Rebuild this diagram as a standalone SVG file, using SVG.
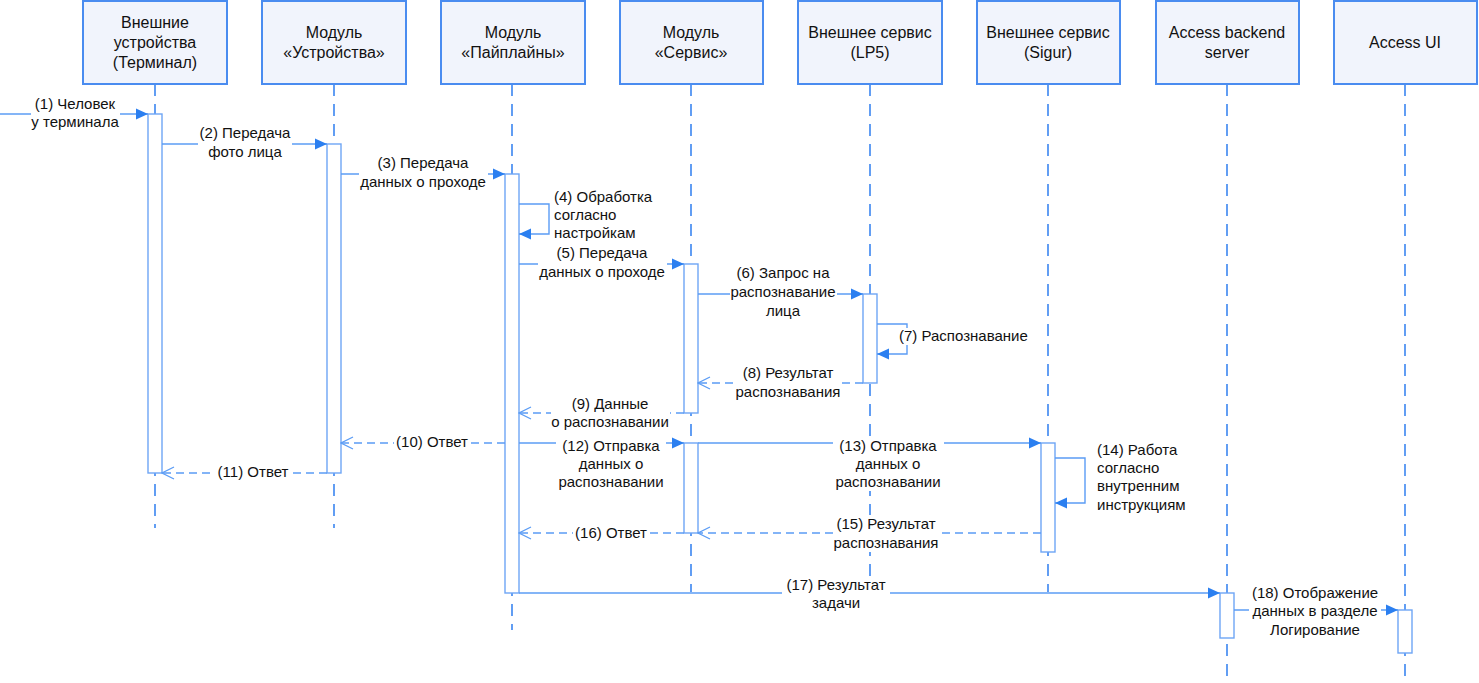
<svg xmlns="http://www.w3.org/2000/svg" width="1479" height="683" viewBox="0 0 1479 683">
<style>
.box{fill:#f1f4fc;stroke:#4a8cf0;stroke-width:2}
.ht{font-family:"Liberation Sans",Arial,sans-serif;font-size:16px;fill:#111;text-anchor:middle}
.life{stroke:#3b86f0;stroke-width:1.6;stroke-dasharray:12 8;fill:none}
.bar{fill:#fff;stroke:#6ea5f5;stroke-width:1.4}
.msg{stroke:#5b9cf5;stroke-width:1.4;fill:none}
.ret{stroke:#5b9cf5;stroke-width:1.4;fill:none;stroke-dasharray:8 5}
.lt{font-family:"Liberation Sans",Arial,sans-serif;font-size:15px;fill:#111;text-anchor:middle}
.ll{font-family:"Liberation Sans",Arial,sans-serif;font-size:15px;fill:#111}
.bg{fill:#fff}
</style>
<defs>
<marker id="fa" markerUnits="userSpaceOnUse" markerWidth="14" markerHeight="12" refX="13" refY="6" orient="auto">
<path d="M1,0.5 L13,6 L1,11.5z" fill="#2b7ff0"/>
</marker>
<marker id="oa" markerUnits="userSpaceOnUse" markerWidth="14" markerHeight="14" refX="13" refY="7" orient="auto">
<path d="M1,1 L13,7 L1,13" fill="none" stroke="#5b9cf5" stroke-width="1.3"/>
</marker>
</defs>

<g id="lifelines">
<line class="life" x1="155" y1="84" x2="155" y2="528"/>
<line class="life" x1="334" y1="84" x2="334" y2="528"/>
<line class="life" x1="512" y1="84" x2="512" y2="630"/>
<line class="life" x1="691" y1="84" x2="691" y2="592"/>
<line class="life" x1="870" y1="84" x2="870" y2="592"/>
<line class="life" x1="1048" y1="84" x2="1048" y2="592"/>
<line class="life" x1="1227" y1="84" x2="1227" y2="680"/>
<line class="life" x1="1405" y1="84" x2="1405" y2="680"/>
</g>

<g id="n1"><rect class="box" x="83" y="1" width="144" height="83"/><text class="ht" x="155" y="27.5">Внешние</text><text class="ht" x="155" y="47.5">устройства</text><text class="ht" x="155" y="67.5">(Терминал)</text></g>
<g id="n2"><rect class="box" x="262" y="1" width="144" height="83"/><text class="ht" x="334" y="37.5">Модуль</text><text class="ht" x="334" y="57.5">«Устройства»</text></g>
<g id="n3"><rect class="box" x="441" y="1" width="144" height="83"/><text class="ht" x="513" y="37.5">Модуль</text><text class="ht" x="513" y="57.5">«Пайплайны»</text></g>
<g id="n4"><rect class="box" x="620" y="1" width="143" height="83"/><text class="ht" x="691" y="37.5">Модуль</text><text class="ht" x="691" y="57.5">«Сервис»</text></g>
<g id="n5"><rect class="box" x="798" y="1" width="144" height="83"/><text class="ht" x="870" y="37.5">Внешнее сервис</text><text class="ht" x="870" y="57.5">(LP5)</text></g>
<g id="n6"><rect class="box" x="977" y="1" width="143" height="83"/><text class="ht" x="1048" y="37.5">Внешнее сервис</text><text class="ht" x="1048" y="57.5">(Sigur)</text></g>
<g id="n7"><rect class="box" x="1156" y="1" width="143" height="83"/><text class="ht" x="1227" y="37.5">Access backend</text><text class="ht" x="1227" y="57.5">server</text></g>
<g id="n8"><rect class="box" x="1334" y="1" width="143" height="83"/><text class="ht" x="1405" y="47.5">Access UI</text></g>

<g id="activations">
<rect class="bar" x="148" y="114" width="14" height="359"/>
<rect class="bar" x="327" y="144" width="14" height="329"/>
<rect class="bar" x="505" y="174" width="14" height="419"/>
<rect class="bar" x="684" y="264" width="14" height="149"/>
<rect class="bar" x="684" y="443" width="14" height="90"/>
<rect class="bar" x="863" y="294" width="14" height="89"/>
<rect class="bar" x="1041" y="443" width="14" height="109"/>
<rect class="bar" x="1220" y="593" width="14" height="45"/>
<rect class="bar" x="1398" y="610" width="14" height="43"/>
</g>

<g id="connectors">
<line class="msg" x1="0" y1="114" x2="148" y2="114" marker-end="url(#fa)"/>
<line class="msg" x1="162" y1="144" x2="327" y2="144" marker-end="url(#fa)"/>
<line class="msg" x1="341" y1="174" x2="505" y2="174" marker-end="url(#fa)"/>
<path class="msg" d="M519,204 H549 V234 H519" marker-end="url(#fa)"/>
<line class="msg" x1="519" y1="264" x2="684" y2="264" marker-end="url(#fa)"/>
<line class="msg" x1="698" y1="294" x2="863" y2="294" marker-end="url(#fa)"/>
<path class="msg" d="M877,324 H907 V354 H877" marker-end="url(#fa)"/>
<line class="ret" x1="863" y1="383" x2="698" y2="383" marker-end="url(#oa)"/>
<line class="ret" x1="684" y1="413" x2="519" y2="413" marker-end="url(#oa)"/>
<line class="ret" x1="505" y1="443" x2="341" y2="443" marker-end="url(#oa)"/>
<line class="ret" x1="327" y1="473" x2="162" y2="473" marker-end="url(#oa)"/>
<line class="msg" x1="519" y1="443" x2="684" y2="443" marker-end="url(#fa)"/>
<line class="msg" x1="698" y1="443" x2="1041" y2="443" marker-end="url(#fa)"/>
<path class="msg" d="M1055,458 H1085 V503 H1055" marker-end="url(#fa)"/>
<line class="ret" x1="1041" y1="533" x2="698" y2="533" marker-end="url(#oa)"/>
<line class="ret" x1="684" y1="533" x2="519" y2="533" marker-end="url(#oa)"/>
<line class="msg" x1="519" y1="593" x2="1220" y2="593" marker-end="url(#fa)"/>
<line class="msg" x1="1234" y1="610" x2="1398" y2="610" marker-end="url(#fa)"/>
</g>

<g id="labels">
<rect class="bg" x="31" y="95" width="89" height="36"/>
<text class="lt" x="75" y="109">(1) Человек</text><text class="lt" x="75" y="127">у терминала</text>
<rect class="bg" x="198" y="124" width="94" height="37"/>
<text class="lt" x="245" y="138">(2) Передача</text><text class="lt" x="245" y="157">фото лица</text>
<rect class="bg" x="359" y="154" width="129" height="37"/>
<text class="lt" x="423" y="168">(3) Передача</text><text class="lt" x="423" y="187">данных о проходе</text>
<text class="ll" x="554" y="202">(4) Обработка</text><text class="ll" x="554" y="220">согласно</text><text class="ll" x="554" y="238">настройкам</text>
<rect class="bg" x="538" y="244" width="129" height="37"/>
<text class="lt" x="602" y="258">(5) Передача</text><text class="lt" x="602" y="277">данных о проходе</text>
<rect class="bg" x="730" y="264" width="107" height="56"/>
<text class="lt" x="783" y="278">(6) Запрос на</text><text class="lt" x="783" y="297">распознавание</text><text class="lt" x="783" y="316">лица</text>
<rect class="bg" x="898" y="328" width="131" height="17"/>
<text class="ll" x="899" y="341">(7) Распознавание</text>
<rect class="bg" x="735" y="364" width="106" height="37"/>
<text class="lt" x="788" y="378">(8) Результат</text><text class="lt" x="788" y="397">распознавания</text>
<rect class="bg" x="551" y="395" width="119" height="36"/>
<text class="lt" x="610" y="409">(9) Данные</text><text class="lt" x="610" y="427">о распознавании</text>
<rect class="bg" x="394" y="434" width="76" height="17"/>
<text class="lt" x="432" y="447">(10) Ответ</text>
<rect class="bg" x="215" y="464" width="76" height="17"/>
<text class="lt" x="253" y="477">(11) Ответ</text>
<rect class="bg" x="556" y="437" width="110" height="54"/>
<text class="lt" x="611" y="451">(12) Отправка</text><text class="lt" x="611" y="469">данных о</text><text class="lt" x="611" y="487">распознавании</text>
<rect class="bg" x="833" y="437" width="111" height="54"/>
<text class="lt" x="888" y="451">(13) Отправка</text><text class="lt" x="888" y="469">данных о</text><text class="lt" x="888" y="487">распознавании</text>
<text class="ll" x="1097" y="455">(14) Работа</text><text class="ll" x="1097" y="473">согласно</text><text class="ll" x="1097" y="491">внутренним</text><text class="ll" x="1097" y="510">инструкциям</text>
<rect class="bg" x="833" y="515" width="107" height="37"/>
<text class="lt" x="886" y="529">(15) Результат</text><text class="lt" x="886" y="548">распознавания</text>
<rect class="bg" x="573" y="525" width="76" height="17"/>
<text class="lt" x="611" y="538">(16) Ответ</text>
<rect class="bg" x="782" y="576" width="108" height="36"/>
<text class="lt" x="836" y="590">(17) Результат</text><text class="lt" x="836" y="608">задачи</text>
<rect class="bg" x="1249" y="584" width="132" height="55"/>
<text class="lt" x="1315" y="598">(18) Отображение</text><text class="lt" x="1315" y="616">данных в разделе</text><text class="lt" x="1315" y="635">Логирование</text>
</g>
</svg>
